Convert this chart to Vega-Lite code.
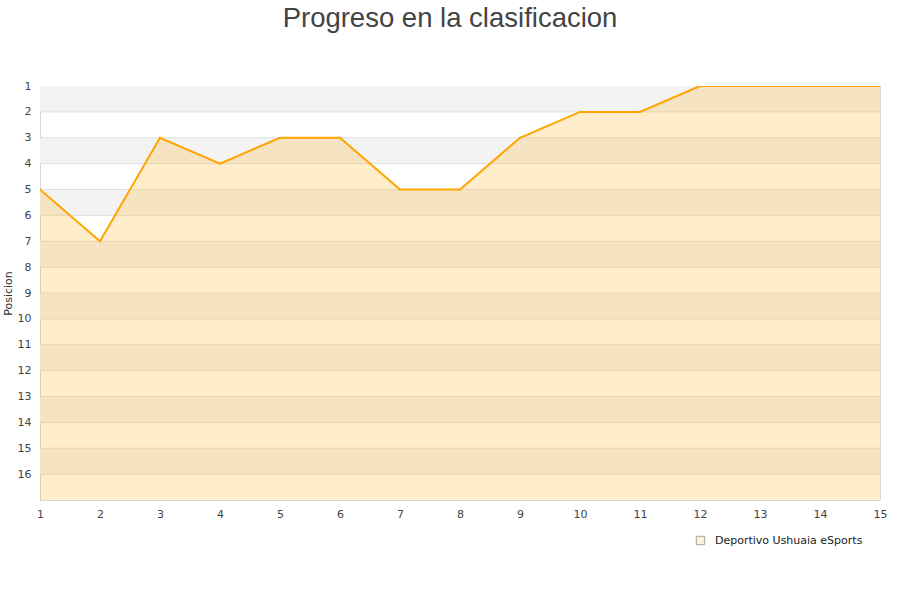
{
  "$schema": "https://vega.github.io/schema/vega-lite/v6.json",
  "autosize": "none",
  "width": 840,
  "height": 414,
  "padding": {"left": 40, "top": 86, "right": 20, "bottom": 100},
  "background": "white",
  "title": {
    "text": "Progreso en la clasificacion",
    "font": "Liberation Sans",
    "fontSize": 27.5,
    "fontWeight": "normal",
    "color": "#444444",
    "anchor": "middle",
    "dx": -10,
    "offset": 48
  },
  "config": {
    "view": {"stroke": "#d6d6d6", "strokeWidth": 1},
    "axis": {
      "labelFont": "DejaVu Sans",
      "labelFontSize": 11,
      "labelColor": "#444444",
      "labelOverlap": false,
      "titleFont": "DejaVu Sans",
      "titleFontSize": 11,
      "titleFontWeight": "normal",
      "titleColor": "#333333",
      "domain": false,
      "ticks": false,
      "grid": false
    },
    "legend": {"labelFont": "DejaVu Sans", "labelFontSize": 11, "labelColor": "#222222"}
  },
  "data": {
    "values": [
      {"jornada": 1, "posicion": 5, "equipo": "Deportivo Ushuaia eSports"},
      {"jornada": 2, "posicion": 7, "equipo": "Deportivo Ushuaia eSports"},
      {"jornada": 3, "posicion": 3, "equipo": "Deportivo Ushuaia eSports"},
      {"jornada": 4, "posicion": 4, "equipo": "Deportivo Ushuaia eSports"},
      {"jornada": 5, "posicion": 3, "equipo": "Deportivo Ushuaia eSports"},
      {"jornada": 6, "posicion": 3, "equipo": "Deportivo Ushuaia eSports"},
      {"jornada": 7, "posicion": 5, "equipo": "Deportivo Ushuaia eSports"},
      {"jornada": 8, "posicion": 5, "equipo": "Deportivo Ushuaia eSports"},
      {"jornada": 9, "posicion": 3, "equipo": "Deportivo Ushuaia eSports"},
      {"jornada": 10, "posicion": 2, "equipo": "Deportivo Ushuaia eSports"},
      {"jornada": 11, "posicion": 2, "equipo": "Deportivo Ushuaia eSports"},
      {"jornada": 12, "posicion": 1, "equipo": "Deportivo Ushuaia eSports"},
      {"jornada": 13, "posicion": 1, "equipo": "Deportivo Ushuaia eSports"},
      {"jornada": 14, "posicion": 1, "equipo": "Deportivo Ushuaia eSports"},
      {"jornada": 15, "posicion": 1, "equipo": "Deportivo Ushuaia eSports"}
    ]
  },
  "layer": [
    {
      "data": {
        "values": [
          {"lo": 1, "hi": 2}, {"lo": 3, "hi": 4}, {"lo": 5, "hi": 6},
          {"lo": 7, "hi": 8}, {"lo": 9, "hi": 10}, {"lo": 11, "hi": 12},
          {"lo": 13, "hi": 14}, {"lo": 15, "hi": 16}
        ]
      },
      "mark": {"type": "rect", "fill": "#f3f3f3"},
      "encoding": {
        "y": {
          "field": "lo",
          "type": "quantitative",
          "scale": {"domain": [1, 17], "reverse": true, "nice": false, "zero": false},
          "axis": {"values": [1,2,3,4,5,6,7,8,9,10,11,12,13,14,15,16], "format": "d", "title": "Posicion", "labelPadding": 9, "titlePadding": 4, "labelOverlap": false}
        },
        "y2": {"field": "hi"}
      }
    },
    {
      "data": {
        "values": [
          {"v": 2}, {"v": 3}, {"v": 4}, {"v": 5}, {"v": 6}, {"v": 7}, {"v": 8},
          {"v": 9}, {"v": 10}, {"v": 11}, {"v": 12}, {"v": 13}, {"v": 14},
          {"v": 15}, {"v": 16}
        ]
      },
      "mark": {"type": "rule", "color": "#e0e0e0", "strokeWidth": 1},
      "encoding": {
        "y": {
          "field": "v",
          "type": "quantitative",
          "axis": {"values": [1,2,3,4,5,6,7,8,9,10,11,12,13,14,15,16], "format": "d", "title": "Posicion", "labelPadding": 9, "titlePadding": 4, "labelOverlap": false}
        }
      }
    },
    {
      "mark": {"type": "area", "color": "#FFA500", "fillOpacity": 0.2, "clip": true},
      "encoding": {
        "x": {
          "field": "jornada",
          "type": "quantitative",
          "scale": {"domain": [1, 15], "nice": false, "zero": false},
          "axis": {"values": [1,2,3,4,5,6,7,8,9,10,11,12,13,14,15], "format": "d", "title": null, "labelPadding": 8, "labelFlush": false, "labelOverlap": false}
        },
        "y": {
          "field": "posicion",
          "type": "quantitative",
          "axis": {"values": [1,2,3,4,5,6,7,8,9,10,11,12,13,14,15,16], "format": "d", "title": "Posicion", "labelPadding": 9, "titlePadding": 4, "labelOverlap": false}
        },
        "y2": {"datum": 17}
      }
    },
    {
      "mark": {"type": "point", "shape": "square", "filled": true, "size": 1, "stroke": "#808080", "strokeWidth": 1, "clip": true},
      "encoding": {
        "x": {
          "field": "jornada",
          "type": "quantitative",
          "axis": {"values": [1,2,3,4,5,6,7,8,9,10,11,12,13,14,15], "format": "d", "title": null, "labelPadding": 8, "labelFlush": false, "labelOverlap": false}
        },
        "y": {
          "field": "posicion",
          "type": "quantitative",
          "axis": {"values": [1,2,3,4,5,6,7,8,9,10,11,12,13,14,15,16], "format": "d", "title": "Posicion", "labelPadding": 9, "titlePadding": 4, "labelOverlap": false}
        },
        "fill": {
          "field": "equipo",
          "type": "nominal",
          "scale": {"range": ["#FFEDCC"]},
          "legend": {
            "title": null,
            "orient": "none",
            "legendX": 655,
            "legendY": 449,
            "symbolType": "square",
            "symbolSize": 70,
            "labelOffset": 9,
            "symbolStrokeColor": "#808080",
            "symbolStrokeWidth": 1
          }
        }
      }
    },
    {
      "mark": {"type": "line", "color": "#FFA500", "strokeWidth": 2, "clip": true},
      "encoding": {
        "x": {
          "field": "jornada",
          "type": "quantitative",
          "axis": {"values": [1,2,3,4,5,6,7,8,9,10,11,12,13,14,15], "format": "d", "title": null, "labelPadding": 8, "labelFlush": false, "labelOverlap": false}
        },
        "y": {
          "field": "posicion",
          "type": "quantitative",
          "axis": {"values": [1,2,3,4,5,6,7,8,9,10,11,12,13,14,15,16], "format": "d", "title": "Posicion", "labelPadding": 9, "titlePadding": 4, "labelOverlap": false}
        }
      }
    }
  ]
}
